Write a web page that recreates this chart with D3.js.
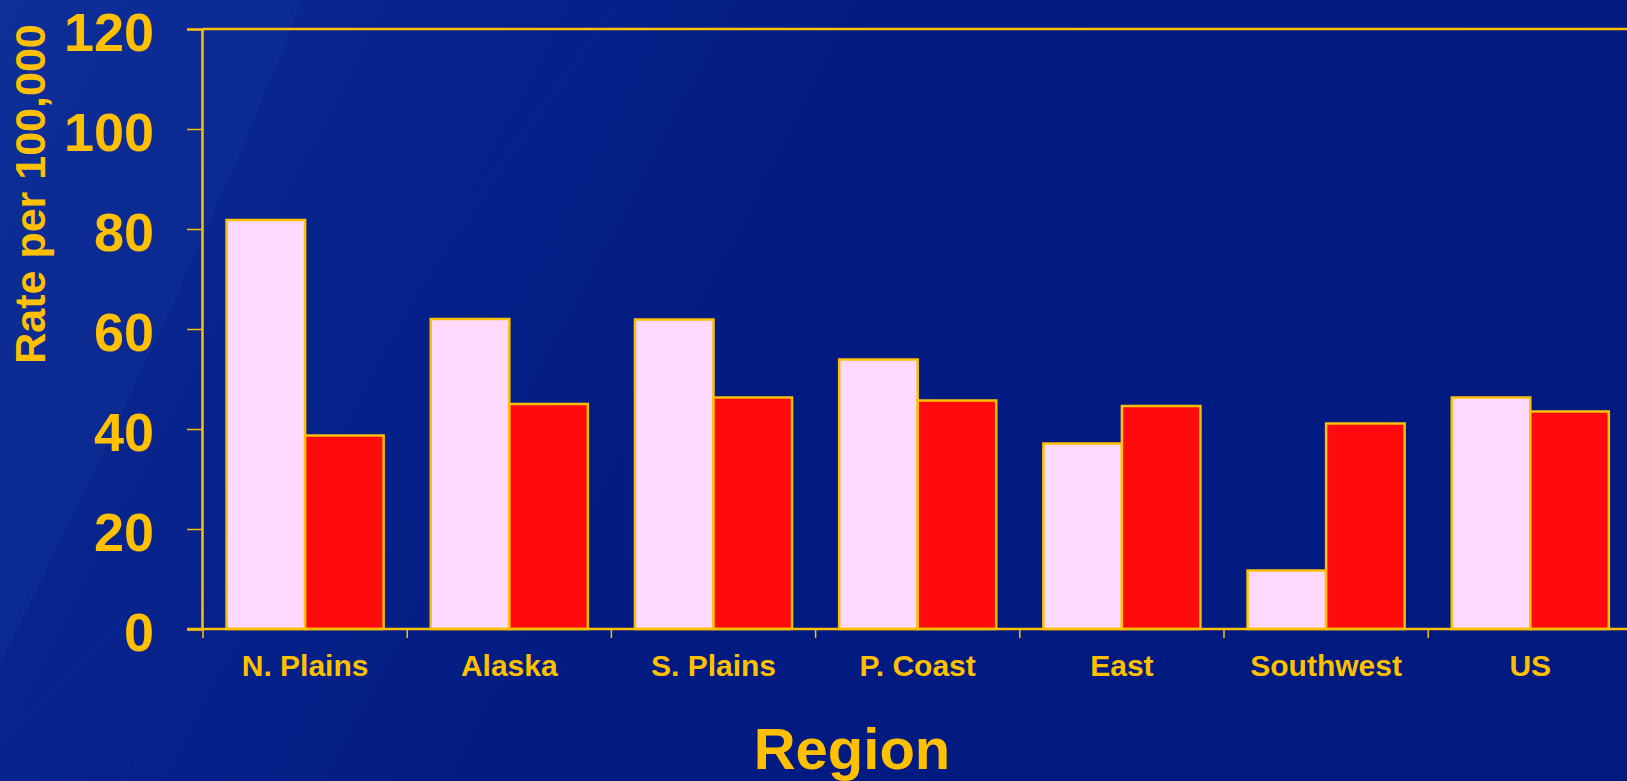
<!DOCTYPE html>
<html>
<head>
<meta charset="utf-8">
<script src="https://cdn.jsdelivr.net/npm/d3@7/dist/d3.min.js"></script>
<style>
  body { margin: 0; background: #011a80; overflow: hidden; }
  svg { display: block; }
</style>
</head>
<body>
<script>
// rate per 100,000 by region, two series per region
var regions = ['N. Plains', 'Alaska', 'S. Plains', 'P. Coast', 'East', 'Southwest', 'US'];
var seriesKeys = ['first', 'second'];
var firstRates = [81.8, 62, 61.9, 53.9, 37.1, 11.7, 46.3];
var secondRates = [38.7, 45, 46.3, 45.7, 44.6, 41.1, 43.5];
var yTicks = [0, 20, 40, 60, 80, 100, 120];

var width = 1627,
    height = 781;

var gold = '#FFC000';
var fills = { first: '#FFD9FF', second: '#FF0B0E' };
var font = '"Liberation Sans", Arial, sans-serif';

var rows = regions.map(function (r, i) {
    return { region: r, first: firstRates[i], second: secondRates[i] };
});

var svg = d3.select('body').append('svg').attr('width', width).attr('height', height);

// background: navy with a lighter sweep on the left
var defs = svg.append('defs');
var bg = defs.append('linearGradient').attr('id', 'bg')
    .attr('x1', 0).attr('y1', 0).attr('x2', 1).attr('y2', 0.25);
bg.append('stop').attr('offset', 0).attr('stop-color', '#0c2c95');
bg.append('stop').attr('offset', 0.3).attr('stop-color', '#06228a');
bg.append('stop').attr('offset', 0.55).attr('stop-color', '#021b82');
bg.append('stop').attr('offset', 1).attr('stop-color', '#001a80');

svg.append('rect').attr('width', width).attr('height', height).attr('fill', 'url(#bg)');

svg.append('path')
    .attr('d', 'M0,0 L300,0 C240,160 120,420 0,660 Z')
    .attr('fill', '#3a60c8').attr('opacity', 0.06);
svg.append('path')
    .attr('d', 'M300,0 C240,160 120,420 0,660')
    .attr('fill', 'none').attr('stroke', '#5a80e0').attr('stroke-width', 2).attr('opacity', 0.08);
svg.append('path')
    .attr('d', 'M620,0 C480,200 300,420 120,781')
    .attr('fill', 'none').attr('stroke', '#4a70d8').attr('stroke-width', 3).attr('opacity', 0.035);
svg.append('path')
    .attr('d', 'M0,740 C60,690 120,620 180,560')
    .attr('fill', 'none').attr('stroke', '#4a70d8').attr('stroke-width', 2).attr('opacity', 0.06);

// scales
var x0 = d3.scaleBand().domain(regions).range([203, 203 + 7 * 204.2]).padding(0);
var x1 = d3.scaleBand().domain(seriesKeys).range([0, x0.bandwidth()]).paddingInner(0).paddingOuter(0.3);
var y = d3.scaleLinear().domain([0, 120]).range([629, 29]);

// frame: top line
svg.append('line')
    .attr('x1', x0.range()[0]).attr('x2', x0.range()[1])
    .attr('y1', y(120)).attr('y2', y(120))
    .attr('stroke', gold).attr('stroke-width', 2.5);

// bars
var groups = svg.append('g').selectAll('g')
    .data(rows)
    .enter().append('g')
    .attr('transform', function (d) { return 'translate(' + x0(d.region) + ',0)'; });

groups.selectAll('rect')
    .data(function (d) {
        return seriesKeys.map(function (k) { return { key: k, value: d[k] }; });
    })
    .enter().append('rect')
    .attr('x', function (d) { return x1(d.key); })
    .attr('y', function (d) { return y(d.value); })
    .attr('width', x1.bandwidth())
    .attr('height', function (d) { return y(0) - y(d.value); })
    .attr('fill', function (d) { return fills[d.key]; })
    .attr('stroke', gold)
    .attr('stroke-width', 2.5);

// y axis
var yAxis = svg.append('g')
    .attr('transform', 'translate(' + (x0.range()[0] - 1) + ',0)')
    .call(d3.axisLeft(y).tickValues(yTicks).tickSize(15).tickPadding(33));
yAxis.select('.domain').attr('stroke', gold).attr('stroke-width', 2.5);
yAxis.selectAll('.tick line').attr('stroke', gold).attr('stroke-width', 1.5);
yAxis.selectAll('.tick text')
    .attr('fill', gold)
    .attr('dy', '0.39em')
    .style('font-family', font)
    .style('font-weight', 'bold')
    .style('font-size', '54px');

// x axis: baseline, ticks at band boundaries, labels at band centers
var xg = svg.append('g');
xg.append('line')
    .attr('x1', x0.range()[0] - 16).attr('x2', x0.range()[1])
    .attr('y1', y(0)).attr('y2', y(0))
    .attr('stroke', gold).attr('stroke-width', 2.5);
xg.selectAll('.xtick')
    .data(regions)
    .enter().append('line')
    .attr('class', 'xtick')
    .attr('x1', function (d) { return x0(d); })
    .attr('x2', function (d) { return x0(d); })
    .attr('y1', y(0)).attr('y2', y(0) + 9)
    .attr('stroke', gold).attr('stroke-width', 1.5);
xg.selectAll('.xlabel')
    .data(regions)
    .enter().append('text')
    .attr('class', 'xlabel')
    .attr('x', function (d) { return x0(d) + x0.bandwidth() / 2; })
    .attr('y', 676)
    .attr('text-anchor', 'middle')
    .attr('fill', gold)
    .style('font-family', font)
    .style('font-weight', 'bold')
    .style('font-size', '30px')
    .text(function (d) { return d; });

// axis titles
svg.append('text')
    .attr('x', 852).attr('y', 769)
    .attr('text-anchor', 'middle')
    .attr('fill', gold)
    .style('font-family', font)
    .style('font-weight', 'bold')
    .style('font-size', '58px')
    .text('Region');

svg.append('text')
    .attr('transform', 'translate(45,194) rotate(-90)')
    .attr('text-anchor', 'middle')
    .attr('fill', gold)
    .style('font-family', font)
    .style('font-weight', 'bold')
    .style('font-size', '43px')
    .text('Rate per 100,000');
</script>
</body>
</html>
